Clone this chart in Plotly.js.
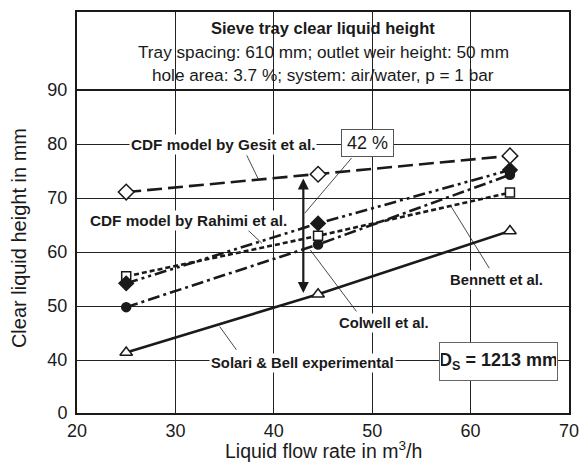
<!DOCTYPE html>
<html>
<head>
<meta charset="utf-8">
<script src="https://cdn.plot.ly/plotly-3.0.1.min.js"></script>
<style>html,body{margin:0;padding:0;background:#fff;}#chart{width:582px;height:465px;}</style>
</head>
<body>
<div id="chart"></div>
<script>
// Data (liquid flow rate in m3/h vs clear liquid height in mm)
var flowRate = [25, 44.5, 64];
var gesit   = [71.1, 74.4, 77.8];
var rahimi  = [54.2, 65.3, 75.2];
var bennett = [55.5, 63.0, 71.0];
var colwell = [49.8, 61.4, 74.3];
var solari  = [41.4, 52.2, 63.9];

var yTickVals = [30.2, 40, 50, 60, 70, 80, 90];
var yTickText = ["0", "40", "50", "60", "70", "80", "90"];
var xTickVals = [20, 30, 40, 50, 60, 70];

var titleLines = [
  "<b>Sieve tray clear liquid height</b>",
  "Tray spacing: 610 mm; outlet weir height: 50 mm",
  "hole area: 3.7 %; system: air/water, p = 1 bar"
];

var FONT = "Arial, 'Liberation Sans', Helvetica, sans-serif";
var INK = "#1a1a1a";

function tr(y, dash, symbol, mcolor, msize) {
  return {
    x: flowRate, y: y, type: "scatter", mode: "lines+markers",
    line: {color: INK, width: 2.6, dash: dash},
    marker: {symbol: symbol, size: msize, color: mcolor, line: {color: INK, width: 1.5}},
    showlegend: false, cliponaxis: false
  };
}

var traces = [
  tr(solari, "solid", "triangle-up", "#fff", 11),
  tr(colwell, "12px,4px,3px,4px", "circle", INK, 9),
  tr(bennett, "5px,3px", "square", "#fff", 9),
  tr(rahimi, "12px,4px,3px,4px,3px,4px", "diamond", INK, 11),
  tr(gesit, "15px,6px", "diamond", "#fff", 12)
];

function leader(x0, y0, x1, y1) {
  return {type: "line", xref: "x", yref: "y", x0: x0, y0: y0, x1: x1, y1: y1,
          line: {color: INK, width: 0.8}, layer: "above"};
}

var shapes = [
  {type: "line", xref: "paper", yref: "y", x0: 0, x1: 1, y0: 90, y1: 90,
   line: {color: INK, width: 2}, layer: "above"},
  leader(37.25, 77.9, 38.4, 73.6),
  leader(37.4, 64.0, 38.8, 61.6),
  leader(61.9, 57.0, 58.0, 68.5),
  leader(43.7, 60.4, 48.4, 49.0),
  leader(34.5, 46.2, 36.2, 41.9),
  leader(43.15, 67.2, 47.9, 77.4)
];

function lab(text, x, y, size) {
  return {text: "<b>" + text + "</b>", x: x, y: y, xref: "x", yref: "y", showarrow: false,
          xanchor: "center", yanchor: "middle",
          font: {family: FONT, size: size || 14.8, color: INK}, bgcolor: "#fff", borderpad: 1};
}

var annotations = [
  {text: titleLines[0], xref: "paper", yref: "y", x: 0.5, y: 101.5, showarrow: false,
   xanchor: "center", yanchor: "middle", font: {family: FONT, size: 16.5, color: INK}},
  {text: titleLines[1], xref: "paper", yref: "y", x: 0.5, y: 97.1, showarrow: false,
   xanchor: "center", yanchor: "middle", font: {family: FONT, size: 17.2, color: INK}},
  {text: titleLines[2], xref: "paper", yref: "y", x: 0.5, y: 92.8, showarrow: false,
   xanchor: "center", yanchor: "middle", font: {family: FONT, size: 17.2, color: INK}},
  lab("CDF model by Gesit et al.", 34.8, 79.9, 15.3),
  lab("CDF model by Rahimi et al.", 31.3, 65.8, 15.3),
  lab("Bennett et al.", 62.6, 54.8),
  lab("Colwell et al.", 51.2, 46.8),
  lab("Solari &amp; Bell experimental", 42.9, 39.4),
  {text: "42 %", x: 49.5, y: 80.1, xref: "x", yref: "y", showarrow: false,
   xanchor: "center", yanchor: "middle",
   font: {family: FONT, size: 18, color: INK}, bgcolor: "#fff",
   bordercolor: "#555", borderwidth: 1, width: 49, height: 24},
  {text: "<b>D<sub>S</sub> = 1213 mm</b>", x: 62.88, y: 39.75, xref: "x", yref: "y", showarrow: false,
   xanchor: "center", yanchor: "middle",
   font: {family: FONT, size: 18, color: INK}, bgcolor: "#fff",
   bordercolor: "#666", borderwidth: 1, width: 115, height: 35},
  {text: "", x: 43.0, y: 52.4, ax: 43.0, ay: 73.9, xref: "x", yref: "y", axref: "x", ayref: "y",
   showarrow: true, arrowside: "end+start", arrowhead: 2, arrowsize: 1, arrowwidth: 2.2,
   arrowcolor: INK, standoff: 0, startstandoff: 0},
  {text: "Clear liquid height in mm", xref: "paper", yref: "paper", x: -0.118, y: 0.436,
   xanchor: "center", yanchor: "middle",
   textangle: -90, showarrow: false, font: {family: FONT, size: 20, color: INK}},
  {text: "Liquid flow rate in m<sup>3</sup>/h", xref: "paper", yref: "paper", x: 0.5, y: -0.093,
   xanchor: "center", yanchor: "middle",
   showarrow: false, font: {family: FONT, size: 19.5, color: INK}}
];

var layout = {
  width: 582, height: 465,
  margin: {l: 77, r: 13, t: 12, b: 52, pad: 0},
  paper_bgcolor: "#fff", plot_bgcolor: "#fff",
  showlegend: false,
  font: {family: FONT, color: INK},
  xaxis: {
    range: [20, 70], tickvals: xTickVals, ticks: "", showgrid: true,
    gridcolor: "#222", gridwidth: 1, zeroline: false,
    showline: true, linecolor: INK, linewidth: 2, mirror: true,
    tickfont: {family: FONT, size: 18, color: INK}
  },
  yaxis: {
    range: [30.2, 104.44], tickvals: yTickVals, ticktext: yTickText, ticks: "",
    showgrid: true, gridcolor: "#222", gridwidth: 1, zeroline: false,
    showline: true, linecolor: INK, linewidth: 2, mirror: true,
    ticklabelstandoff: 4,
    tickfont: {family: FONT, size: 18, color: INK}
  },
  shapes: shapes,
  annotations: annotations
};

Plotly.newPlot("chart", traces, layout, {staticPlot: true, displayModeBar: false});
</script>
</body>
</html>
